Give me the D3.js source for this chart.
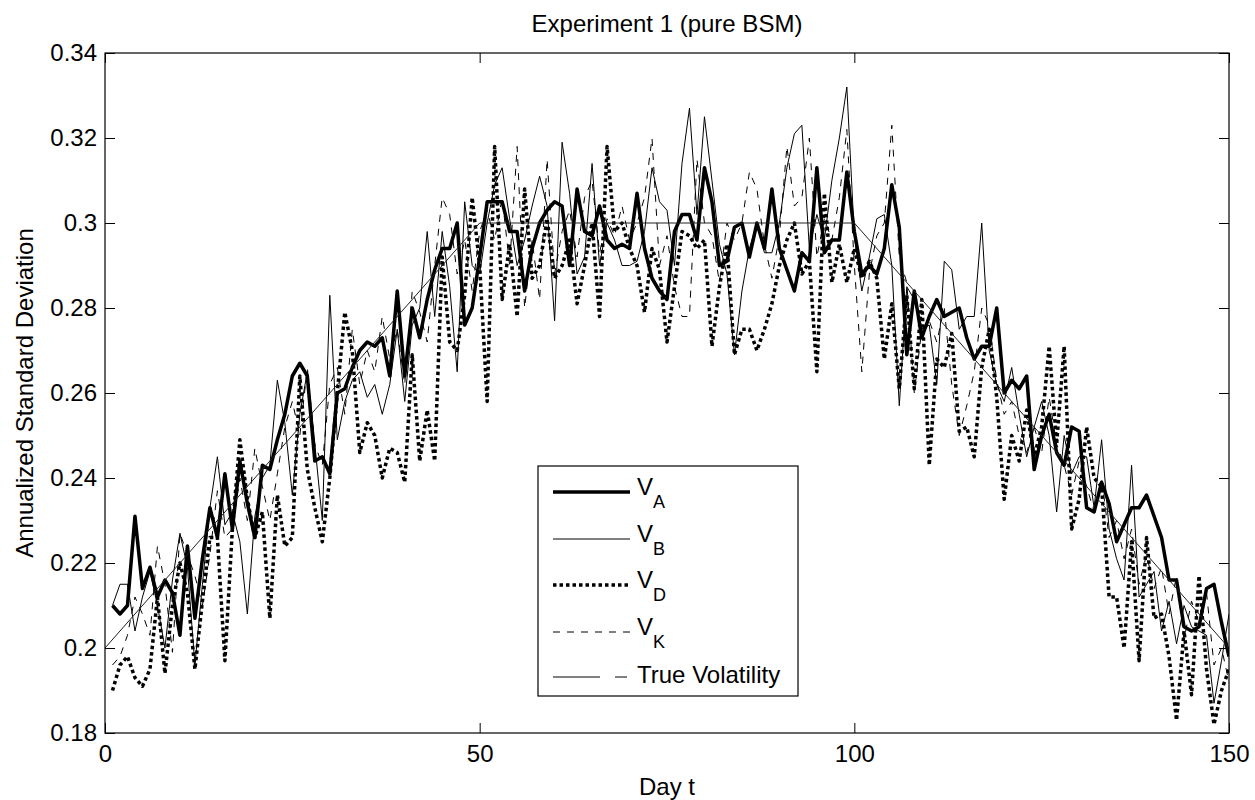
<!DOCTYPE html>
<html>
<head>
<meta charset="utf-8">
<script src="https://cdn.jsdelivr.net/npm/d3@7"></script>
<style>
  body { margin: 0; background: #fff; }
  svg text { font-family: "Liberation Sans", Arial, Helvetica, sans-serif; fill: #000; }
</style>
</head>
<body>
<div id="chart"></div>
<script>
// values, one per day (t = 1..150)
const days = d3.range(1, 151);

const vA = [0.210, 0.208, 0.210, 0.231, 0.214, 0.219, 0.212, 0.216, 0.213, 0.203,
  0.224, 0.207, 0.221, 0.233, 0.226, 0.241, 0.228, 0.244, 0.234, 0.226,
  0.243, 0.242, 0.249, 0.255, 0.264, 0.267, 0.264, 0.244, 0.245, 0.241,
  0.260, 0.261, 0.266, 0.270, 0.272, 0.271, 0.273, 0.264, 0.284, 0.264,
  0.280, 0.273, 0.282, 0.289, 0.294, 0.294, 0.300, 0.276, 0.280, 0.292,
  0.305, 0.305, 0.305, 0.298, 0.298, 0.284, 0.294, 0.300, 0.303, 0.305,
  0.304, 0.290, 0.308, 0.298, 0.297, 0.304, 0.296, 0.294, 0.295, 0.294,
  0.307, 0.294, 0.287, 0.284, 0.282, 0.298, 0.302, 0.302, 0.296, 0.313,
  0.305, 0.290, 0.291, 0.299, 0.300, 0.292, 0.300, 0.294, 0.308, 0.294,
  0.289, 0.284, 0.293, 0.291, 0.313, 0.293, 0.296, 0.296, 0.312, 0.298,
  0.288, 0.290, 0.288, 0.294, 0.309, 0.299, 0.269, 0.284, 0.273, 0.278,
  0.282, 0.278, 0.279, 0.280, 0.273, 0.268, 0.271, 0.271, 0.280, 0.260,
  0.263, 0.261, 0.264, 0.242, 0.250, 0.255, 0.246, 0.243, 0.252, 0.251,
  0.233, 0.232, 0.239, 0.234, 0.225, 0.229, 0.233, 0.233, 0.236, 0.231,
  0.226, 0.216, 0.216, 0.205, 0.204, 0.205, 0.214, 0.215, 0.206, 0.198];

const vB = [0.210, 0.215, 0.215, 0.204, 0.212, 0.218, 0.210, 0.200, 0.216, 0.227,
  0.219, 0.196, 0.215, 0.233, 0.245, 0.229, 0.232, 0.225, 0.208, 0.231,
  0.240, 0.243, 0.263, 0.253, 0.236, 0.255, 0.265, 0.248, 0.230, 0.283,
  0.249, 0.258, 0.263, 0.265, 0.259, 0.262, 0.255, 0.262, 0.275, 0.258,
  0.276, 0.280, 0.298, 0.278, 0.298, 0.285, 0.265, 0.305, 0.290, 0.288,
  0.300, 0.309, 0.313, 0.301, 0.290, 0.296, 0.304, 0.311, 0.304, 0.277,
  0.319, 0.307, 0.288, 0.292, 0.314, 0.290, 0.300, 0.296, 0.290, 0.290,
  0.291, 0.298, 0.313, 0.305, 0.303, 0.290, 0.314, 0.327, 0.302, 0.325,
  0.310, 0.295, 0.288, 0.269, 0.284, 0.294, 0.300, 0.293, 0.293, 0.300,
  0.313, 0.321, 0.323, 0.294, 0.302, 0.296, 0.310, 0.320, 0.332, 0.297,
  0.284, 0.292, 0.301, 0.302, 0.290, 0.257, 0.285, 0.282, 0.275, 0.276,
  0.262, 0.291, 0.289, 0.275, 0.278, 0.278, 0.300, 0.270, 0.262, 0.258,
  0.266, 0.255, 0.245, 0.252, 0.258, 0.250, 0.232, 0.250, 0.241, 0.245,
  0.245, 0.233, 0.249, 0.228, 0.221, 0.216, 0.243, 0.212, 0.215, 0.218,
  0.204, 0.211, 0.201, 0.210, 0.205, 0.204, 0.203, 0.187, 0.197, 0.208];

const vD = [0.190, 0.196, 0.198, 0.193, 0.191, 0.195, 0.212, 0.194, 0.210, 0.220,
  0.213, 0.195, 0.211, 0.226, 0.226, 0.197, 0.228, 0.249, 0.235, 0.226,
  0.232, 0.207, 0.236, 0.224, 0.226, 0.264, 0.242, 0.233, 0.225, 0.240,
  0.260, 0.279, 0.270, 0.246, 0.253, 0.250, 0.240, 0.247, 0.246, 0.239,
  0.269, 0.244, 0.256, 0.244, 0.292, 0.272, 0.270, 0.283, 0.306, 0.290,
  0.258, 0.318, 0.282, 0.295, 0.278, 0.308, 0.287, 0.290, 0.301, 0.287,
  0.290, 0.296, 0.281, 0.290, 0.300, 0.278, 0.318, 0.298, 0.300, 0.294,
  0.290, 0.279, 0.294, 0.289, 0.272, 0.285, 0.298, 0.297, 0.294, 0.296,
  0.271, 0.285, 0.295, 0.269, 0.275, 0.275, 0.270, 0.275, 0.281, 0.290,
  0.296, 0.300, 0.288, 0.291, 0.265, 0.307, 0.286, 0.295, 0.286, 0.294,
  0.287, 0.291, 0.287, 0.268, 0.281, 0.261, 0.283, 0.261, 0.282, 0.243,
  0.268, 0.266, 0.274, 0.251, 0.252, 0.245, 0.266, 0.275, 0.259, 0.235,
  0.250, 0.244, 0.256, 0.245, 0.252, 0.271, 0.248, 0.271, 0.228, 0.235,
  0.252, 0.240, 0.238, 0.212, 0.212, 0.200, 0.225, 0.197, 0.226, 0.207,
  0.208, 0.198, 0.183, 0.204, 0.189, 0.217, 0.195, 0.182, 0.190, 0.195];

const vK = [0.196, 0.198, 0.203, 0.212, 0.208, 0.203, 0.224, 0.215, 0.199, 0.227,
  0.222, 0.217, 0.210, 0.222, 0.237, 0.226, 0.228, 0.240, 0.230, 0.247,
  0.238, 0.230, 0.241, 0.252, 0.258, 0.250, 0.266, 0.248, 0.243, 0.262,
  0.266, 0.255, 0.275, 0.262, 0.270, 0.265, 0.278, 0.268, 0.275, 0.262,
  0.284, 0.279, 0.272, 0.290, 0.306, 0.302, 0.288, 0.296, 0.284, 0.298,
  0.303, 0.296, 0.306, 0.290, 0.318, 0.280, 0.296, 0.282, 0.315, 0.288,
  0.298, 0.303, 0.292, 0.306, 0.310, 0.293, 0.301, 0.297, 0.304, 0.296,
  0.300, 0.306, 0.320, 0.290, 0.297, 0.285, 0.278, 0.278, 0.315, 0.300,
  0.297, 0.286, 0.300, 0.296, 0.300, 0.312, 0.308, 0.295, 0.287, 0.297,
  0.318, 0.304, 0.306, 0.320, 0.292, 0.301, 0.296, 0.306, 0.322, 0.290,
  0.265, 0.288, 0.297, 0.300, 0.323, 0.292, 0.286, 0.260, 0.275, 0.277,
  0.272, 0.280, 0.262, 0.250, 0.257, 0.265, 0.280, 0.276, 0.263, 0.255,
  0.258, 0.250, 0.246, 0.252, 0.246, 0.259, 0.248, 0.243, 0.236, 0.244,
  0.238, 0.232, 0.240, 0.226, 0.230, 0.221, 0.228, 0.215, 0.222, 0.214,
  0.219, 0.208, 0.217, 0.202, 0.211, 0.206, 0.213, 0.196, 0.200, 0.192];

// true volatility: ramp up, plateau, ramp down
const trueDays = [0, 50, 100, 150];
const trueVol = [0.20, 0.30, 0.30, 0.20];

const xTicks = [0, 50, 100, 150];
const yTicks = [0.18, 0.20, 0.22, 0.24, 0.26, 0.28, 0.30, 0.32, 0.34];
const yTickLabels = ["0.18", "0.2", "0.22", "0.24", "0.26", "0.28", "0.3", "0.32", "0.34"];

const W = 1255, H = 800;
const plotLeft = 105, plotRight = 1229, plotTop = 53, plotBottom = 733;
const fs = 24;

const svg = d3.select("#chart").append("svg")
  .attr("width", W)
  .attr("height", H);

const x = d3.scaleLinear().domain([0, 150]).range([plotLeft, plotRight]);
const y = d3.scaleLinear().domain([0.18, 0.34]).range([plotBottom, plotTop]);

// clip lines to the axes box
svg.append("clipPath").attr("id", "plotclip")
  .append("rect")
  .attr("x", plotLeft).attr("y", plotTop)
  .attr("width", plotRight - plotLeft).attr("height", plotBottom - plotTop);

const plot = svg.append("g").attr("clip-path", "url(#plotclip)");

const series = [
  { name: "A", values: vA, width: 3.5, dash: null },
  { name: "B", values: vB, width: 1, dash: null },
  { name: "D", values: vD, width: 3.5, dash: "3.5,3" },
  { name: "K", values: vK, width: 1, dash: "7,7" }
];

const line = d3.line()
  .x(d => x(d[0]))
  .y(d => y(d[1]));

series.forEach(s => {
  plot.append("path")
    .datum(days.map((t, i) => [t, s.values[i]]))
    .attr("fill", "none")
    .attr("stroke", "#000")
    .attr("stroke-width", s.width)
    .attr("stroke-linejoin", "round")
    .attr("stroke-dasharray", s.dash)
    .attr("d", line);
});

plot.append("path")
  .datum(trueDays.map((t, i) => [t, trueVol[i]]))
  .attr("fill", "none")
  .attr("stroke", "#222")
  .attr("stroke-width", 1)
  .attr("d", line);

// axes, MATLAB style: ticks pointing inwards on all four sides
svg.append("g")
  .attr("transform", "translate(" + plotLeft + ",0)")
  .call(d3.axisLeft(y).tickValues(yTicks)
    .tickFormat((d, i) => yTickLabels[i])
    .tickSizeInner(-10).tickSizeOuter(0).tickPadding(8));

svg.append("g")
  .attr("transform", "translate(0," + plotBottom + ")")
  .call(d3.axisBottom(x).tickValues(xTicks)
    .tickSizeInner(-10).tickSizeOuter(0).tickPadding(12));

svg.append("g")
  .attr("transform", "translate(" + plotRight + ",0)")
  .call(d3.axisRight(y).tickValues(yTicks).tickFormat("")
    .tickSizeInner(-10).tickSizeOuter(0));

svg.append("g")
  .attr("transform", "translate(0," + plotTop + ")")
  .call(d3.axisTop(x).tickValues(xTicks).tickFormat("")
    .tickSizeInner(-10).tickSizeOuter(0));

svg.selectAll(".domain").remove();
svg.selectAll(".tick line").attr("stroke", "#000");
svg.selectAll(".tick text")
  .style("font-size", fs + "px")
  .style("font-family", "\"Liberation Sans\", Arial, Helvetica, sans-serif");

svg.append("rect")
  .attr("x", plotLeft).attr("y", plotTop)
  .attr("width", plotRight - plotLeft).attr("height", plotBottom - plotTop)
  .attr("fill", "none")
  .attr("stroke", "#000")
  .attr("stroke-width", 1.2);

// titles
svg.append("text")
  .attr("x", (plotLeft + plotRight) / 2).attr("y", 32)
  .attr("text-anchor", "middle")
  .style("font-size", fs + "px")
  .text("Experiment 1 (pure BSM)");

svg.append("text")
  .attr("x", (plotLeft + plotRight) / 2).attr("y", 795)
  .attr("text-anchor", "middle")
  .style("font-size", fs + "px")
  .text("Day t");

svg.append("text")
  .attr("transform", "translate(33," + (plotTop + plotBottom) / 2 + ") rotate(-90)")
  .attr("text-anchor", "middle")
  .style("font-size", fs + "px")
  .text("Annualized Standard Deviation");

// legend
const legend = svg.append("g");
legend.append("rect")
  .attr("x", 538).attr("y", 466)
  .attr("width", 260).attr("height", 230)
  .attr("fill", "#fff")
  .attr("stroke", "#000")
  .attr("stroke-width", 1.2);

const rowY = [492, 539, 585, 632, 677];
const legendItems = [
  { sub: "A", width: 3.5, dash: null },
  { sub: "B", width: 1, dash: null },
  { sub: "D", width: 3.5, dash: "3.5,3" },
  { sub: "K", width: 1, dash: "7,7" },
  { label: "True Volatility", width: 1, dash: "47,15,12,15" }
];

legendItems.forEach((item, i) => {
  const yy = rowY[i];
  legend.append("line")
    .attr("x1", 553).attr("x2", 630)
    .attr("y1", yy).attr("y2", yy)
    .attr("stroke", "#000")
    .attr("stroke-width", item.width)
    .attr("stroke-dasharray", item.dash);
  if (item.sub) {
    const t = legend.append("text")
      .attr("x", 637).attr("y", yy + 3)
      .style("font-size", fs + "px");
    t.append("tspan").text("V");
    t.append("tspan")
      .attr("dy", 13)
      .style("font-size", "18px")
      .text(item.sub);
  } else {
    legend.append("text")
      .attr("x", 637).attr("y", yy + 6)
      .style("font-size", fs + "px")
      .text(item.label);
  }
});
</script>
</body>
</html>
